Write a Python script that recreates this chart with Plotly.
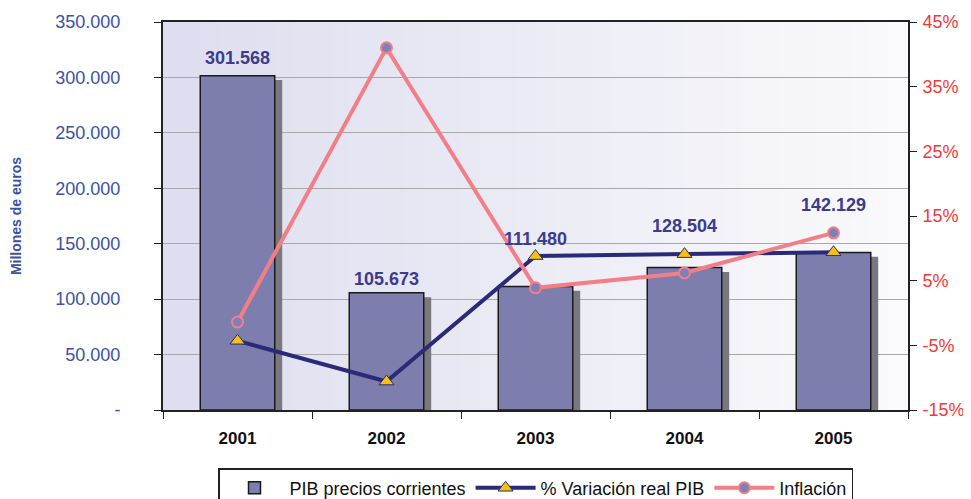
import plotly.graph_objects as go

years = ["2001", "2002", "2003", "2004", "2005"]
pib = [301568, 105673, 111480, 128504, 142129]
var_real = [-4.3, -10.6, 8.8, 9.1, 9.4]
inflacion = [-1.4, 41.0, 3.9, 6.2, 12.4]
left_ticks = [0, 50000, 100000, 150000, 200000, 250000, 300000, 350000]
left_ticktext = ["-", "50.000", "100.000", "150.000", "200.000", "250.000", "300.000", "350.000"]
right_ticks = [-15, -5, 5, 15, 25, 35, 45]
right_ticktext = ["-15%", "-5%", "5%", "15%", "25%", "35%", "45%"]
label_shift = [18, 14, 47, 42, 47]

def fmt(v):
    return f"{v:,}".replace(",", ".")

FONT = "Liberation Sans, Arial, sans-serif"
fig = go.Figure()

# bar shadow
fig.add_trace(go.Bar(
    x=years, y=pib, base=-4000, width=0.5, offset=-0.20,
    marker=dict(color="#78787e", line=dict(width=0)),
    showlegend=False, hoverinfo="skip"))
# main bars
fig.add_trace(go.Bar(
    x=years, y=pib, width=0.5, offset=-0.25, name="PIB precios corrientes",
    marker=dict(color="#7d7dae", line=dict(color="#1a1a1a", width=1.5))))
fig.add_trace(go.Scatter(
    x=years, y=var_real, yaxis="y2", name="% Variación real PIB", mode="lines+markers",
    line=dict(color="#2b2a78", width=4),
    marker=dict(symbol="triangle-up", size=13, color="#f6c20e", line=dict(color="#2b2a78", width=1))))
fig.add_trace(go.Scatter(
    x=years, y=inflacion, yaxis="y2", name="Inflación", mode="lines+markers",
    line=dict(color="#f27e86", width=4),
    marker=dict(symbol="circle", size=11, color="#8080b8", line=dict(color="#f27e86", width=2))))

annotations = []
for i, (v, s) in enumerate(zip(pib, label_shift)):
    annotations.append(dict(x=i, y=v, xref="x", yref="y", text=f"<b>{fmt(v)}</b>",
                            showarrow=False, yshift=s, yanchor="middle",
                            font=dict(family=FONT, size=18, color="#3b3b8f")))

# gradient background strips
n = 40
c0 = (222, 222, 240)
c1 = (250, 250, 252)
shapes = []
for i in range(n):
    t = i / (n - 1)
    col = tuple(int(c0[k] + (c1[k] - c0[k]) * t) for k in range(3))
    shapes.append(dict(type="rect", xref="x domain", yref="y domain",
                       x0=i / n, x1=(i + 1) / n + 0.002, y0=0, y1=1,
                       fillcolor=f"rgb{col}", line=dict(width=0), layer="below"))

fig.update_layout(
    width=971, height=499,
    margin=dict(l=155, r=71, t=14, b=97, autoexpand=False),
    paper_bgcolor="white", plot_bgcolor="white",
    barmode="overlay",
    font=dict(family=FONT),
    shapes=shapes,
    annotations=annotations,
    xaxis=dict(type="category", range=[-0.5, 4.5], showline=True, linecolor="#222", linewidth=2, mirror=True,
               ticks="outside", tickson="boundaries", ticklen=7, tickcolor="#222",
               tickfont=dict(family=FONT, size=17, color="#111", weight="bold"),
               tickangle=0, ticklabelstandoff=12,
               showgrid=False, automargin=False),
    yaxis=dict(range=[0, 350000], tickvals=left_ticks, ticktext=left_ticktext,
               showline=True, linecolor="#222", linewidth=2,
               ticks="outside", ticklen=7, tickcolor="#222",
               tickfont=dict(family=FONT, size=18, color="#3a52a4"),
               ticklabelstandoff=30,
               showgrid=True, gridcolor="#a8a8a8", gridwidth=1.2,
               zeroline=False, automargin=False,
               title=dict(text="Millones de euros", standoff=38,
                          font=dict(family=FONT, size=14, color="#3a52a4", weight="bold"))),
    yaxis2=dict(range=[-15, 45], tickvals=right_ticks, ticktext=right_ticktext,
                overlaying="y", side="right", showline=True, linecolor="#222", linewidth=2,
                ticks="outside", ticklen=7, tickcolor="#222",
                tickfont=dict(family=FONT, size=18, color="#f03a3a"),
                ticklabelstandoff=2,
                showgrid=False, zeroline=False, automargin=False),
    legend=dict(orientation="h", x=0.5, xanchor="center", xref="paper",
                y=0.078, yanchor="top", yref="container",
                bordercolor="#222", borderwidth=1.5, bgcolor="white",
                font=dict(family=FONT, size=18, color="#111"),
                itemwidth=60, tracegroupgap=0),
)

fig.write_html("out.html")
